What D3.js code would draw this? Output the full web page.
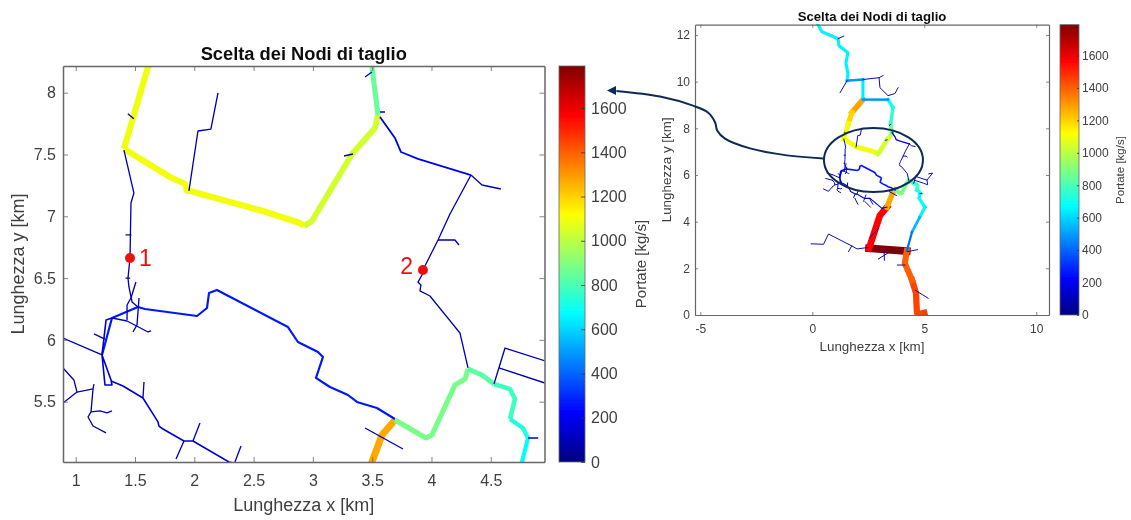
<!DOCTYPE html>
<html><head><meta charset="utf-8">
<style>
html,body{margin:0;padding:0;background:#fff;}
svg{display:block;font-family:"Liberation Sans",Arial,sans-serif;}
</style>
<script src="https://cdn.jsdelivr.net/npm/d3@7/dist/d3.min.js"></script>
</head><body>
<svg id="c" width="1131" height="520"></svg>
<script>
// ---- data: pipe network, km coordinates, mass flow kg/s ----
const titleText = "Scelta dei Nodi di taglio";
const xLabel = "Lunghezza x [km]";
const yLabel = "Lunghezza y [km]";
const barLabel = "Portate [kg/s]";
const cmax = 1790;
const zoomXTicks = [1,1.5,2,2.5,3,3.5,4,4.5];
const zoomYTicks = [5.5,6,6.5,7,7.5,8];
const fullXTicks = [-5,0,5,10];
const fullYTicks = [0,2,4,6,8,10,12];
const barTicks = [0,200,400,600,800,1000,1200,1400,1600];
const cutNodes = [{id:"1",x:1.458,y:6.663},{id:"2",x:3.928,y:6.566}];
const lensEllipse = {cx:2.73,cy:6.64,rx:2.21,ry:1.37};
const leaderLine = [[0.48,6.71],[-1.13,6.84],[-2.78,7.14],[-3.9,7.56],[-4.25,7.91],[-4.34,8.25],[-4.66,8.68],[-5.33,8.97],[-6.8,9.36],[-8.75,9.6]];
const leaderTip = [-9.17,9.62];

const pipeFlows = [
 1090,1190,1280,1100,1040,850,760,690,480,640,480,650,
 1270,1560,1790,1400,1450,420,550,650,880,830,780,730,680,
 262,150,150,190,
 90,90,90,90,140,90,90,90,90,90,90,90,90,90,90,
 90,90,90,90,90,90,90,90,90,90,90,90,90,90,90,90,90,90,90,90,90,90,90,90,90,90,90,90,90,90,90,90
];
const pipePaths = [
 [[1.407,7.545],[1.5,7.85],[1.61,8.208]],
 [[1.61,8.208],[1.77,8.68]],
 [[1.77,8.68],[2.26,9.23]],
 [[1.407,7.545],[1.795,7.318],[1.922,7.261],[1.938,7.205],[1.964,7.205],[2.579,7.043],[2.891,6.946],[2.925,6.922]],
 [[2.925,6.922],[2.992,6.962],[3.33,7.504],[3.524,7.714],[3.549,7.82]],
 [[3.549,7.82],[3.498,8.208]],
 [[3.498,8.208],[3.6,8.89]],
 [[3.6,8.89],[3.38,9.23]],
 [[3.38,9.23],[2.26,9.23]],
 [[2.26,9.23],[2.26,10.09]],
 [[2.26,10.09],[1.55,10.04]],
 [[1.55,10.04],[1.59,10.34],[1.5,10.81],[1.59,11.24],[1.19,11.54],[1.15,11.84],[0.43,12.14],[0.25,12.44]],
 [[3.692,5.352],[3.583,5.231],[3.498,5.012],[3.33,4.62]],
 [[3.33,4.62],[3.02,4.27],[2.8,3.63],[2.58,2.99],[2.53,2.86]],
 [[2.53,2.86],[4.22,2.74]],
 [[4.22,2.74],[4.13,2.22],[4.45,1.5]],
 [[4.45,1.5],[4.63,0.94],[4.67,0.13],[4.7,0.03],[5,0.1]],
 [[4.22,2.74],[4.45,3.55]],
 [[4.45,3.55],[4.8,4.2]],
 [[4.8,4.2],[5.03,4.62]],
 [[3.692,5.352],[3.954,5.206],[4.004,5.231],[4.198,5.635],[4.283,5.684],[4.308,5.765]],
 [[4.308,5.765],[4.426,5.716],[4.527,5.643]],
 [[4.527,5.643],[4.662,5.603],[4.704,5.522],[4.662,5.36]],
 [[4.662,5.36],[4.771,5.287],[4.814,5.206]],
 [[4.814,5.206],[4.763,5.012],[5.03,4.62]],
 [[1.222,5.878],[1.306,6.177],[1.525,6.266],[1.584,6.25],[2.023,6.193],[2.107,6.258],[2.124,6.379],[2.191,6.404],[2.79,6.104],[2.874,5.983],[3.043,5.902],[3.085,5.862],[3.026,5.692],[3.144,5.619],[3.296,5.554],[3.372,5.498],[3.54,5.449],[3.692,5.36]],
 [[1.222,5.878],[1.256,6.161],[1.306,6.177]],
 [[1.222,5.878],[1.247,5.635],[1.306,5.635],[1.298,5.676],[1.222,5.878]],
 [[3.566,7.803],[3.692,7.634],[3.743,7.52],[3.886,7.464],[4.333,7.334]],
 [[1.407,7.536],[1.491,7.188],[1.466,7.108],[1.458,6.663],[1.441,6.501],[1.449,6.428],[1.475,6.307],[1.525,6.266]],
 [[1.955,7.205],[2.031,7.69],[2.14,7.706],[2.2,7.998]],
 [[0.893,6.015],[1.222,5.878]],
 [[1.154,6.048],[1.247,6.007]],
 [[1.298,5.667],[1.399,5.627],[1.567,5.53],[1.694,5.336],[1.702,5.303],[1.736,5.279],[1.913,5.182],[1.989,5.182],[2.292,5.012],[2.35,5.0],[2.58,5.0],[3.11,4.57],[3.33,4.62]],
 [[1.576,5.659],[1.567,5.53]],
 [[2.048,5.328],[1.989,5.182]],
 [[1.913,5.182],[1.846,5.036]],
 [[2.394,5.142],[2.343,5.012],[2.29,4.88]],
 [[0.893,5.773],[0.985,5.676],[1.011,5.578],[0.893,5.489]],
 [[1.011,5.578],[1.146,5.603],[1.154,5.643]],
 [[1.146,5.603],[1.129,5.417],[1.104,5.376],[1.146,5.303],[1.256,5.247]],
 [[1.129,5.417],[1.205,5.425],[1.264,5.409],[1.306,5.425]],
 [[1.508,6.468],[1.466,6.339],[1.433,6.282],[1.433,6.161]],
 [[1.306,6.177],[1.433,6.153],[1.61,6.064],[1.635,6.072]],
 [[1.534,6.339],[1.517,6.121],[1.483,6.064]],
 [[3.566,7.844],[3.608,7.844]],
 [[3.262,7.488],[3.338,7.504]],
 [[3.44,8.127],[3.498,8.167]],
 [[1.44,7.83],[1.49,7.79]],
 [[1.42,6.85],[1.47,6.85]],
 [[1.42,6.5],[1.46,6.5]],
 [[4.333,7.334],[4.426,7.253],[4.586,7.221]],
 [[4.333,7.334],[4.156,7.019],[4.055,6.808],[3.928,6.566],[3.92,6.525],[3.886,6.468],[3.911,6.444],[3.903,6.396],[3.987,6.355],[4.24,6.056],[4.308,5.773]],
 [[4.055,6.808],[4.198,6.808],[4.232,6.768]],
 [[3.44,5.287],[3.76,5.117]],
 [[4.527,5.643],[4.62,5.934],[5.12,5.78],[5.37,6.08],[5.2,6.05]],
 [[4.569,5.773],[4.957,5.651],[5.15,5.58],[5.12,5.78]],
 [[4.814,5.206],[4.9,5.206]],
 [[1.55,10.04],[1.24,9.53]],
 [[1.15,11.84],[1.4,11.95]],
 [[2.26,10.09],[2.98,10.17],[3.02,9.74],[3.38,9.4],[3.69,9.49],[3.83,9.74]],
 [[2.98,10.17],[3.16,10.26]],
 [[0.893,6.015],[0.66,6.08]],
 [[0.893,5.773],[0.6,5.85]],
 [[0.893,5.489],[0.72,5.3],[0.5,5.4]],
 [[2.53,2.9],[2.0,2.83],[1.76,2.96],[0.72,3.47],[0.5,3.03],[-0.05,3.05]],
 [[1.76,2.96],[1.62,2.72]],
 [[3.2,2.8],[3.22,2.35]],
 [[2.95,2.4],[3.45,2.7]],
 [[4.27,2.72],[4.7,2.8]],
 [[3.8,2.14],[4.13,2.14]],
 [[4.6,1.06],[5.17,0.72]],
 [[2.58,3.33],[2.95,3.7]],
 [[2.35,4.86],[2.6,4.62]],
 [[1.9,5.0],[2.03,4.75]],
 [[2.55,5.0],[2.7,4.75]]
];
// -------------------------------------------------------------
const jet = t => {
  const c = v => Math.round(255*Math.max(0,Math.min(1,v)));
  return `rgb(${c(Math.min(4*t-1.5,-4*t+4.5))},${c(Math.min(4*t-0.5,-4*t+3.5))},${c(Math.min(4*t+0.5,-4*t+2.5))})`;
};
const ink = "#404040", frame = "#666";
const svg = d3.select("#c");
const defs = svg.append("defs");
defs.append("filter").attr("id","soft").attr("x","0").attr("y","0").attr("width","100%").attr("height","100%")
  .append("feGaussianBlur").attr("stdDeviation",0.55);
const grad = defs.append("linearGradient").attr("id","jet").attr("x1",0).attr("x2",0).attr("y1",1).attr("y2",0);
d3.range(0,9).forEach(i=>grad.append("stop").attr("offset",i/8).attr("stop-color",jet(i/8)));
const root = svg.append("g").attr("filter","url(#soft)");
const pipes = pipePaths.map((p,i)=>({p,f:pipeFlows[i]}));

function panel(o){
  const x = d3.scaleLinear(o.xd,o.xr), y = d3.scaleLinear(o.yd,o.yr);
  const g = root.append("g");
  const w = d3.scaleLinear([0,cmax],o.wr);
  const id = "clip"+o.id;
  defs.append("clipPath").attr("id",id).append("rect")
    .attr("x",o.xr[0]).attr("y",o.yr[1]).attr("width",o.xr[1]-o.xr[0]).attr("height",o.yr[0]-o.yr[1]);
  const line = d3.line().x(d=>x(d[0])).y(d=>y(d[1]));
  const ordered = pipes.slice().sort((a,b)=>b.f-a.f);
  g.append("g").attr("clip-path",`url(#${id})`).selectAll("path").data(ordered).join("path")
    .attr("d",d=>line(d.p)).attr("fill","none").attr("stroke",d=>jet(d.f/cmax))
    .attr("stroke-width",d=>w(d.f)).attr("stroke-linejoin","round").attr("stroke-linecap",o.cap);
  const ax = (gen,tr,ticks,show,pad)=>{
    const a = g.append("g").attr("transform",tr).call(gen.tickValues(ticks).tickSizeOuter(0).tickPadding(pad).tickFormat(show?String:""));
    a.select(".domain").attr("stroke",frame).attr("stroke-width",o.sw);
    a.selectAll("line").attr("stroke",frame).attr("stroke-width",0.8);
    a.selectAll("text").attr("fill",ink).attr("font-size",o.fs).attr("font-family",null);
    return a;
  };
  ax(d3.axisBottom(x).tickSizeInner(-o.tl),`translate(0,${o.yr[0]})`,o.xt,true,o.xpad);
  ax(d3.axisTop(x).tickSizeInner(-o.tl),`translate(0,${o.yr[1]})`,o.xt,false,0);
  ax(d3.axisLeft(y).tickSizeInner(-o.tl),`translate(${o.xr[0]},0)`,o.yt,true,o.ypad);
  ax(d3.axisRight(y).tickSizeInner(-o.tl),`translate(${o.xr[1]},0)`,o.yt,false,0);
  g.append("text").attr("x",(o.xr[0]+o.xr[1])/2+o.tdx).attr("y",o.yr[1]-o.tdy).attr("text-anchor","middle")
    .attr("font-weight","bold").attr("font-size",o.tfs).attr("fill","#111").text(titleText);
  g.append("text").attr("x",(o.xr[0]+o.xr[1])/2+o.tdx).attr("y",o.xly).attr("text-anchor","middle")
    .attr("font-size",o.lfs).attr("fill",ink).text(xLabel);
  g.append("text").attr("transform",`translate(${o.ylx},${(o.yr[0]+o.yr[1])/2}) rotate(-90)`).attr("text-anchor","middle")
    .attr("font-size",o.lfs).attr("fill",ink).text(yLabel);
  // colour bar
  const c = d3.scaleLinear([0,cmax],[o.yr[0],o.yr[1]]);
  g.append("rect").attr("x",o.bx).attr("width",o.bw).attr("y",o.yr[1]).attr("height",o.yr[0]-o.yr[1])
    .attr("fill","url(#jet)").attr("stroke",frame).attr("stroke-width",0.8);
  const b = g.append("g").attr("transform",`translate(${o.bx+o.bw},0)`)
    .call(d3.axisRight(c).tickValues(barTicks).tickSizeOuter(0).tickSizeInner(-o.tl+1).tickPadding(o.bpad).tickFormat(d3.format("d")));
  b.select(".domain").remove();
  b.selectAll("line").attr("stroke","#333").attr("stroke-width",0.8);
  b.selectAll("text").attr("fill",ink).attr("font-size",o.fs).attr("font-family",null);
  g.append("text").attr("transform",`translate(${o.blx},${o.bly}) rotate(-90)`).attr("text-anchor","middle")
    .attr("font-size",o.bfs).attr("fill",ink).text(barLabel);
  return {x,y,g};
}

const zoomP = panel({id:"z",xd:[0.893,4.953],xr:[63,544.5],yd:[5.012,8.216],yr:[462,66],wr:[0.9,9.5],cap:"butt",
  xt:zoomXTicks,yt:zoomYTicks,tl:5,xpad:13,ypad:7,fs:16,sw:1.5,tfs:18.3,tdy:6,tdx:0,lfs:18,xly:511,ylx:24,
  bx:559,bw:26,bpad:6,blx:646,bly:264,bfs:15});
const fullP = panel({id:"f",xd:[-5.24,10.57],xr:[695,1049],yd:[0,12.44],yr:[315,24.7],wr:[0.6,7.6],cap:"square",
  xt:fullXTicks,yt:fullYTicks,tl:3,xpad:9,ypad:5,fs:12,sw:1.2,tfs:13.2,tdy:4,tdx:0,lfs:13.4,xly:351,ylx:671,
  bx:1060,bw:19,bpad:3,blx:1124,bly:170,bfs:11.5});

// cut nodes on the zoomed panel
zoomP.g.selectAll("circle.node").data(cutNodes).join("circle").attr("class","node")
  .attr("cx",d=>zoomP.x(d.x)).attr("cy",d=>zoomP.y(d.y)).attr("r",5).attr("fill","#f01010");
zoomP.g.selectAll("text.node").data(cutNodes).join("text").attr("class","node")
  .attr("x",d=>zoomP.x(d.x)+(d.id==="1"?9:-10)).attr("y",d=>zoomP.y(d.y)+(d.id==="1"?8:4))
  .attr("text-anchor",d=>d.id==="1"?"start":"end").attr("font-size",23).attr("fill","#f01010").text(d=>d.id);

// lens and leader on top of the small panel
const navy = "#0d2a57";
const F = fullP;
root.append("ellipse").attr("cx",F.x(lensEllipse.cx)).attr("cy",F.y(lensEllipse.cy))
  .attr("rx",F.x(lensEllipse.cx+lensEllipse.rx)-F.x(lensEllipse.cx))
  .attr("ry",F.y(lensEllipse.cy-lensEllipse.ry)-F.y(lensEllipse.cy))
  .attr("fill","none").attr("stroke",navy).attr("stroke-width",2);
root.append("path").attr("d",d3.line().x(d=>F.x(d[0])).y(d=>F.y(d[1])).curve(d3.curveCatmullRom)(leaderLine))
  .attr("fill","none").attr("stroke",navy).attr("stroke-width",2);
const tip=[F.x(leaderTip[0]),F.y(leaderTip[1])];
root.append("path").attr("d",`M${tip[0]},${tip[1]}L${tip[0]+9},${tip[1]-4.5}L${tip[0]+9},${tip[1]+4.5}Z`).attr("fill",navy);
</script>
</body></html>
